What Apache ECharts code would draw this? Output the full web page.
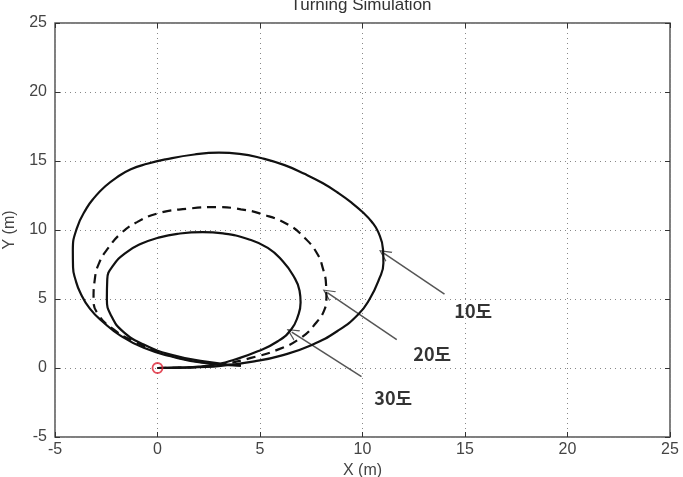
<!DOCTYPE html>
<html>
<head>
<meta charset="utf-8">
<script src="https://cdn.jsdelivr.net/npm/echarts@6/dist/echarts.min.js"></script>
<style>
  html, body { margin: 0; padding: 0; background: #fff; }
  #chart { width: 683px; height: 477px; }
</style>
</head>
<body>
<div id="chart"></div>
<script>
// paths, [x, y] in metres, counterclockwise from the start
var path10 = [
  [0, 0], [1, 0.02], [2, 0.06], [3.09, 0.15], [4.72, 0.48], [6.03, 0.9], [7.5, 1.65],
  [8.8, 2.7], [9.8, 3.9], [10.35, 5.0], [10.8, 6.4], [11.02, 7.6], [11.0, 8.6],
  [10.77, 9.84], [10.45, 10.6], [10.0, 11.3], [9.45, 12.0], [8.8, 12.7], [8.05, 13.4],
  [7.2, 14.05], [6.2, 14.7], [5.1, 15.2], [4.0, 15.52], [3.0, 15.6], [1.8, 15.47],
  [0.4, 15.12], [-0.5, 14.8], [-1.3, 14.4], [-2.0, 13.8], [-2.6, 13.1], [-3.05, 12.4],
  [-3.45, 11.6], [-3.94, 10.1], [-4.13, 8.5], [-4.12, 7.3], [-4.0, 6.4], [-3.77, 5.47],
  [-3.3, 4.3], [-2.63, 3.3], [-1.81, 2.35], [-0.67, 1.46], [0.64, 0.85], [2.27, 0.36],
  [4.07, 0.17]
];
var path20 = [
  [0, 0], [1, 0.02], [2, 0.08], [3.09, 0.24], [4.56, 0.73], [5.87, 1.33], [7.0, 2.19],
  [7.75, 3.3], [8.15, 4.25], [8.24, 5.0], [8.22, 6.1], [8.07, 7.2], [7.8, 8.26],
  [7.2, 9.4], [6.36, 10.4], [5.1, 11.15], [4.07, 11.5], [2.93, 11.66], [1.45, 11.54],
  [0, 11.2], [-1.0, 10.57], [-1.75, 9.8], [-2.4, 8.7], [-2.85, 7.6], [-3.06, 6.4],
  [-3.12, 5.0], [-2.9, 3.9], [-2.14, 2.79], [-1.16, 1.94], [0, 1.21], [1.45, 0.6],
  [3.09, 0.24]
];
var path30 = [
  [0, 0], [1, 0.02], [2, 0.1], [3, 0.3], [3.74, 0.6], [4.89, 1.21], [5.87, 1.94],
  [6.52, 2.79], [6.85, 3.76], [6.98, 4.74], [6.93, 5.6], [6.62, 6.7], [6.1, 7.75],
  [5.38, 8.7], [4.4, 9.35], [3.2, 9.75], [2.2, 9.85], [0.97, 9.72], [0, 9.42],
  [-0.8, 9.0], [-1.55, 8.35], [-2.15, 7.45], [-2.45, 6.44], [-2.47, 5.0], [-2.25, 3.76],
  [-1.65, 2.6], [-0.67, 1.7], [0.64, 0.97], [2.27, 0.48], [4.07, 0.17]
];
var startPoint = [[0, 0]];

var labelNames = ["10도", "20도", "30도"];
var labelPos = [[15.4, 4.1], [13.4, 1.0], [11.5, -2.2]];
// arrow tail -> head
var arrowTails = [[14.0, 5.35], [11.67, 2.06], [9.95, -0.63]];
var arrowHeads = [[11.05, 8.3], [8.3, 5.45], [6.55, 2.6]];

var xTicks = [-5, 0, 5, 10, 15, 20, 25];
var yTicks = [-5, 0, 5, 10, 15, 20, 25];

var chart = echarts.init(document.getElementById("chart"));

var axisFont = { color: "#444", fontSize: 16, fontFamily: "Liberation Sans" };

var arrowData = [];
for (var i = 0; i < arrowTails.length; i++) {
  arrowData.push({ coords: [arrowTails[i], arrowHeads[i]] });
}
var labelData = [];
for (var j = 0; j < labelNames.length; j++) {
  labelData.push({ name: labelNames[j], value: labelPos[j] });
}

function sideAxis(pos, ticks) {
  return {
    type: "value", position: pos,
    min: ticks[0], max: ticks[ticks.length - 1], interval: 5,
    axisLine: { show: false, onZero: false },
    axisTick: { inside: true, length: 5, lineStyle: { color: "#333" } },
    axisLabel: { show: false },
    splitLine: { show: false }
  };
}

chart.setOption({
  animation: false,
  title: {
    text: "Turning Simulation",
    left: 361,
    textAlign: "center",
    top: -3,
    padding: 0,
    textStyle: { color: "#333", fontSize: 17, fontWeight: "normal", fontFamily: "Liberation Sans" }
  },
  grid: {
    left: 55, right: 13, top: 23, bottom: 40,
    outerBoundsMode: "none",
    containLabel: false,
    show: true,
    borderColor: "#555",
    borderWidth: 1.5
  },
  xAxis: [
    {
      type: "value",
      min: xTicks[0], max: xTicks[xTicks.length - 1], interval: 5,
      name: "X (m)",
      nameLocation: "middle",
      nameGap: 25,
      nameTextStyle: axisFont,
      axisLine: { show: false, onZero: false },
      axisTick: { inside: true, length: 5, lineStyle: { color: "#333" } },
      axisLabel: { color: "#444", fontSize: 16, fontFamily: "Liberation Sans", margin: 5 },
      splitLine: { show: true, lineStyle: { color: "#888", type: [1, 4], width: 1 } }
    },
    sideAxis("top", xTicks)
  ],
  yAxis: [
    {
      type: "value",
      min: yTicks[0], max: yTicks[yTicks.length - 1], interval: 5,
      name: "Y (m)",
      nameLocation: "middle",
      nameGap: 37,
      nameTextStyle: axisFont,
      axisLine: { show: false, onZero: false },
      axisTick: { inside: true, length: 5, lineStyle: { color: "#333" } },
      axisLabel: axisFont,
      splitLine: { show: true, lineStyle: { color: "#888", type: [1, 4], width: 1 } }
    },
    sideAxis("right", yTicks)
  ],
  series: [
    {
      name: "10도", type: "line", data: path10, smooth: 0.5, showSymbol: false,
      lineStyle: { color: "#111", width: 2.2 }
    },
    {
      name: "20도", type: "line", data: path20, smooth: 0.5, showSymbol: false,
      lineStyle: { color: "#111", width: 2.2, type: [9, 6] }
    },
    {
      name: "30도", type: "line", data: path30, smooth: 0.5, showSymbol: false,
      lineStyle: { color: "#111", width: 2.2 }
    },
    {
      type: "scatter", data: startPoint, symbol: "circle", symbolSize: 10, z: 5,
      itemStyle: { color: "rgba(0,0,0,0)", borderColor: "#d23", borderWidth: 1.8 }
    },
    {
      type: "lines", coordinateSystem: "cartesian2d", data: arrowData,
      symbol: ["none", "path://M0,0 L7,14 L5.5,14 L0,3 L-5.5,14 L-7,14 Z"],
      symbolSize: [10, 12],
      lineStyle: { color: "#555", width: 1.5, opacity: 1 },
      itemStyle: { color: "#555" }
    },
    {
      type: "scatter", data: labelData, symbolSize: 0,
      label: {
        show: true, position: "inside",
        formatter: function (p) { return p.name; },
        color: "#000", fontSize: 18, fontWeight: "bold",
        fontFamily: "Noto Sans CJK KR"
      }
    }
  ]
});
</script>
</body>
</html>
